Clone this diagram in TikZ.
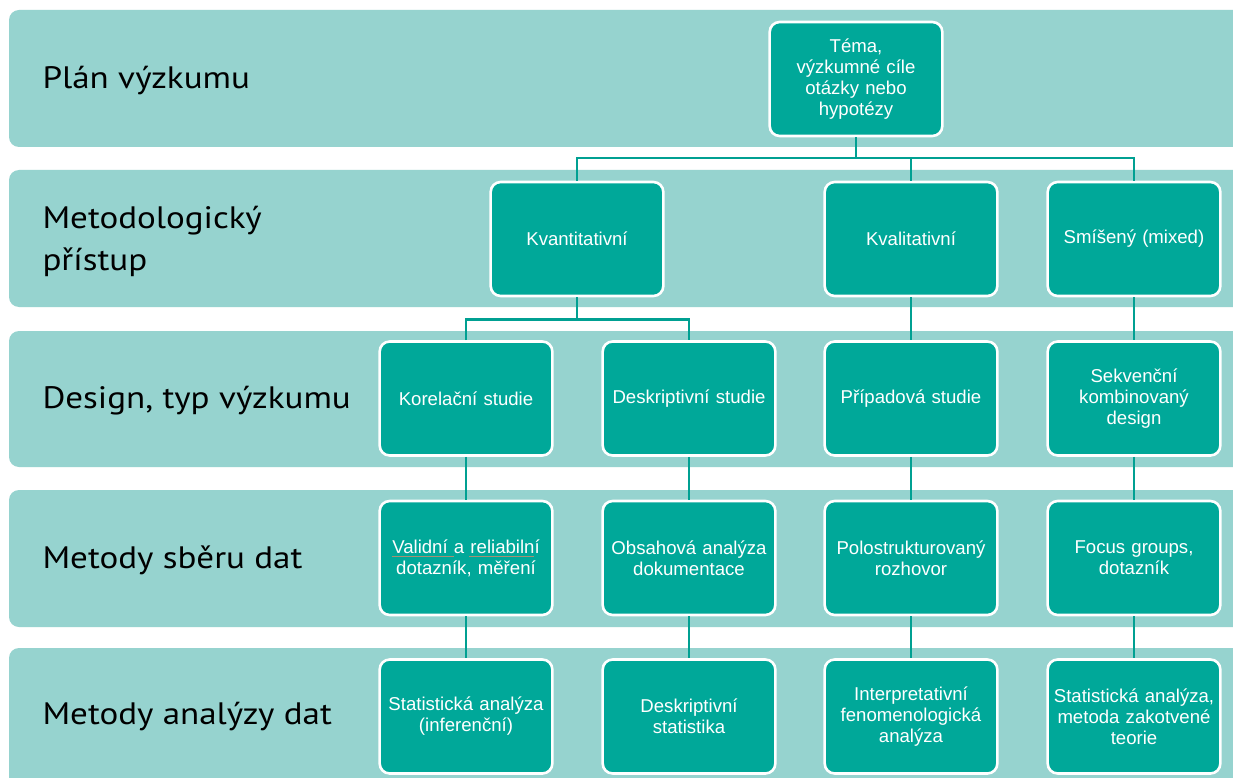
\documentclass[tikz,border=0pt]{standalone}
\usepackage{fontspec}
\setmainfont{Liberation Sans}
\newfontfamily\bandfont[FakeStretch=1.13]{PT Sans}
\definecolor{bandfill}{RGB}{150,211,207}
\definecolor{boxfill}{RGB}{0,168,153}
\definecolor{linecol}{RGB}{0,160,146}
\definecolor{spellmark}{RGB}{165,145,115}
\tikzset{
  band/.style={fill=bandfill, rounded corners=10pt},
  bandlabel/.style={anchor=west, align=left, text=black,
    font=\bandfont\fontsize{31}{42}\selectfont},
  stepbox/.style={rectangle, rounded corners=10pt, fill=boxfill, draw=white,
    line width=2.6pt, minimum width=172pt, minimum height=114pt,
    text width=166pt, align=center, text=white,
    font=\fontsize{18.6}{21}\selectfont},
  conn/.style={draw=linecol, line width=2.7pt},
  squiggle/.style={draw=spellmark, line width=1pt},
}
\begin{document}
\begin{tikzpicture}[x=1pt,y=-1pt]
\useasboundingbox (0,0) rectangle (1233,778);
\clip (0,0) rectangle (1233,778);
\fill[white] (0,0) rectangle (1233,778);

% horizontal bands
\fill[band] (9,10)  rectangle (1260,147);
\fill[band] (9,170) rectangle (1260,307);
\fill[band] (9,331) rectangle (1260,467);
\fill[band] (9,490) rectangle (1260,627);
\fill[band] (9,648) rectangle (1260,800);

\node[bandlabel] (l1) at (39,81)  {Plán výzkumu};
\node[bandlabel] (l2) at (39,241) {Metodologický\\přístup};
\node[bandlabel] (l3) at (39,401) {Design, typ výzkumu};
\node[bandlabel] (l4) at (39,560) {Metody sběru dat};
\node[bandlabel] (l5) at (39,717) {Metody analýzy dat};

% boxes
\node[stepbox] (tema)  at (856,79)  {Téma,\\výzkumné cíle\\otázky nebo\\hypotézy};

\node[stepbox] (kvant) at (577,239) {Kvantitativní};
\node[stepbox] (kval)  at (911,239) {Kvalitativní};
\node[stepbox] (smis)  at (1134,239) {Smíšený (mixed)};

\node[stepbox] (kor)   at (466,398.5)  {Korelační studie};
\node[stepbox] (desk)  at (689,398.5)  {Deskriptivní studie};
\node[stepbox] (prip)  at (911,398.5)  {Případová studie};
\node[stepbox] (sekv)  at (1134,398.5) {Sekvenční\\kombinovaný\\design};

\node[stepbox] (valid) at (466,558)  {Validní a reliabilní\\dotazník, měření};
\node[stepbox] (obsah) at (689,558)  {Obsahová analýza\\dokumentace};
\node[stepbox] (polo)  at (911,558)  {Polostrukturovaný\\rozhovor};
\node[stepbox] (focus) at (1134,558) {Focus groups,\\dotazník};

\node[stepbox] (stat)   at (466,716.5)  {Statistická analýza\\(inferenční)};
\node[stepbox] (dstat)  at (689,716.5)  {Deskriptivní\\statistika};
\node[stepbox] (interp) at (911,716.5)  {Interpretativní\\fenomenologická\\analýza};
\node[stepbox] (stat2)  at (1134,716.5) {Statistická analýza,\\metoda zakotvené\\teorie};

% spell-check underlines under the first line of the questionnaire box
\draw[squiggle] ([shift={(-74,-1.5)}]valid.center) -- ([shift={(-12,-1.5)}]valid.center);
\draw[squiggle] ([shift={(3,-1.5)}]valid.center) -- ([shift={(68,-1.5)}]valid.center);

% connectors
\coordinate (h1) at (0,158);
\coordinate (h2) at (0,319.5);
\draw[conn] (tema.south) -- (tema.south |- h1);
\draw[conn] (kvant.north) |- (smis.north |- h1) -- (smis.north);
\draw[conn] (kval.north) -- (kval.north |- h1);

\draw[conn] (kvant.south) -- (kvant.south |- h2);
\draw[conn] (kor.north) |- (desk.north |- h2) -- (desk.north);
\draw[conn] (kval.south) -- (prip.north);
\draw[conn] (smis.south) -- (sekv.north);

\draw[conn] (kor.south)  -- (valid.north);
\draw[conn] (desk.south) -- (obsah.north);
\draw[conn] (prip.south) -- (polo.north);
\draw[conn] (sekv.south) -- (focus.north);

\draw[conn] (valid.south) -- (stat.north);
\draw[conn] (obsah.south) -- (dstat.north);
\draw[conn] (polo.south)  -- (interp.north);
\draw[conn] (focus.south) -- (stat2.north);
\end{tikzpicture}
\end{document}
